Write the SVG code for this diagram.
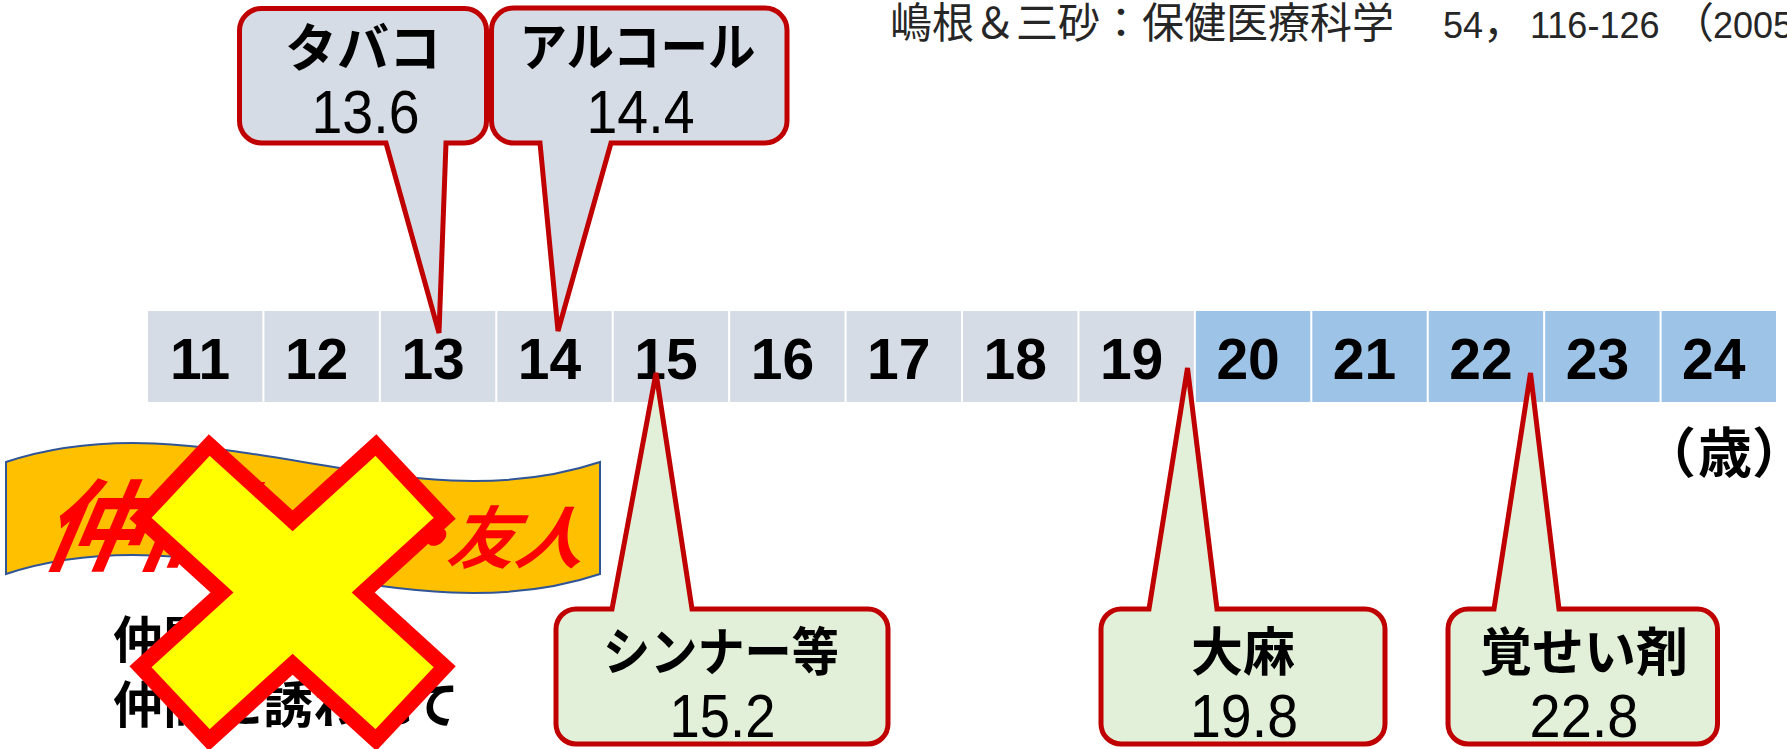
<svg xmlns="http://www.w3.org/2000/svg" width="1787" height="749" viewBox="0 0 1787 749">
<style>
.jp{font-family:"Noto Sans CJK JP","Noto Sans CJK SC",sans-serif;}
.jpb{font-family:"Noto Sans CJK JP","Noto Sans CJK SC",sans-serif;font-weight:bold;}
.num{font-family:"Liberation Sans",Arial,"Noto Sans CJK JP",sans-serif;}
.cellg{fill:#D6DCE5;}
.cellb{fill:#9DC3E6;}
.age{font-family:"Liberation Sans",Arial,sans-serif;font-weight:bold;font-size:57px;fill:#000;text-anchor:middle;}
.coTop{fill:#D6DCE5;stroke:#C00000;stroke-width:5;}
.coBot{fill:#E2F0D9;stroke:#C00000;stroke-width:5;}
.lbl{font-size:52px;fill:#000;text-anchor:middle;}
.val{font-size:62px;fill:#000;text-anchor:middle;}
</style>

<g id="citation">
<text y="37.5" fill="#262626" class="jp" font-size="42"><tspan x="890">嶋根＆三砂：保健医療科学</tspan><tspan x="1443" class="num" font-size="36">54</tspan><tspan>，</tspan><tspan x="1530" class="num" font-size="36">116-126</tspan><tspan x="1672">（</tspan><tspan x="1713" class="num" font-size="36">2005</tspan></text>
</g>

<g id="timeline">
<g id="age-11"><rect class="cellg" x="148" y="311" width="114.4" height="91"/><text class="age" x="200.2" y="379">11</text></g>
<g id="age-12"><rect class="cellg" x="264.43" y="311" width="114.4" height="91"/><text class="age" x="316.6" y="379">12</text></g>
<g id="age-13"><rect class="cellg" x="380.86" y="311" width="114.4" height="91"/><text class="age" x="433.1" y="379">13</text></g>
<g id="age-14"><rect class="cellg" x="497.29" y="311" width="114.4" height="91"/><text class="age" x="549.5" y="379">14</text></g>
<g id="age-15"><rect class="cellg" x="613.72" y="311" width="114.4" height="91"/><text class="age" x="665.9" y="379">15</text></g>
<g id="age-16"><rect class="cellg" x="730.15" y="311" width="114.4" height="91"/><text class="age" x="782.4" y="379">16</text></g>
<g id="age-17"><rect class="cellg" x="846.58" y="311" width="114.4" height="91"/><text class="age" x="898.8" y="379">17</text></g>
<g id="age-18"><rect class="cellg" x="963.01" y="311" width="114.4" height="91"/><text class="age" x="1015.2" y="379">18</text></g>
<g id="age-19"><rect class="cellg" x="1079.44" y="311" width="114.4" height="91"/><text class="age" x="1131.6" y="379">19</text></g>
<g id="age-20"><rect class="cellb" x="1195.87" y="311" width="114.4" height="91"/><text class="age" x="1248.1" y="379">20</text></g>
<g id="age-21"><rect class="cellb" x="1312.3" y="311" width="114.4" height="91"/><text class="age" x="1364.5" y="379">21</text></g>
<g id="age-22"><rect class="cellb" x="1428.73" y="311" width="114.4" height="91"/><text class="age" x="1480.9" y="379">22</text></g>
<g id="age-23"><rect class="cellb" x="1545.16" y="311" width="114.4" height="91"/><text class="age" x="1597.4" y="379">23</text></g>
<g id="age-24"><rect class="cellb" x="1661.59" y="311" width="114.4" height="91"/><text class="age" x="1713.8" y="379">24</text></g>
</g>

<g id="unit">
<text class="jpb" font-size="54" fill="#000" y="473" x="1642 1698 1752">（歳）</text>
</g>

<g id="callout-tobacco">
<path class="coTop" d="M261.5,8.5 H464.5 A22,22 0 0 1 486.5,30.5 V121 A22,22 0 0 1 464.5,143 H446 L439,333 L386,143 H261.5 A22,22 0 0 1 239.5,121 V30.5 A22,22 0 0 1 261.5,8.5 Z"/>
<text class="jpb lbl" x="363" y="67">タバコ</text>
<text class="num val" x="365.5" y="133" textLength="108" lengthAdjust="spacingAndGlyphs">13.6</text>
</g>

<g id="callout-alcohol">
<path class="coTop" d="M513.5,8 H765 A22,22 0 0 1 787,30 V121 A22,22 0 0 1 765,143 H611 L558,331 L540,143 H513.5 A22,22 0 0 1 491.5,121 V30 A22,22 0 0 1 513.5,8 Z"/>
<text class="jpb lbl" x="637.5" y="66" textLength="236" lengthAdjust="spacingAndGlyphs">アルコール</text>
<text class="num val" x="640.5" y="133" textLength="108" lengthAdjust="spacingAndGlyphs">14.4</text>
</g>

<g id="callout-thinner">
<path class="coBot" d="M576,609 H612 L656,373 L692,609 H868 A20,20 0 0 1 888,629 V724 A20,20 0 0 1 868,744 H576 A20,20 0 0 1 556,724 V629 A20,20 0 0 1 576,609 Z"/>
<text class="jpb lbl" x="721" y="671" textLength="236" lengthAdjust="spacingAndGlyphs">シンナー等</text>
<text class="num val" x="722.5" y="737" textLength="106" lengthAdjust="spacingAndGlyphs">15.2</text>
</g>

<g id="callout-cannabis">
<path class="coBot" d="M1121,609 H1149 L1187.5,368 L1217,609 H1365 A20,20 0 0 1 1385,629 V724 A20,20 0 0 1 1365,744 H1121 A20,20 0 0 1 1101,724 V629 A20,20 0 0 1 1121,609 Z"/>
<text class="jpb lbl" x="1243" y="671">大麻</text>
<text class="num val" x="1244" y="736.5" textLength="108" lengthAdjust="spacingAndGlyphs">19.8</text>
</g>

<g id="callout-stimulants">
<path class="coBot" d="M1468,609 H1494 L1530.5,373 L1559,609 H1697.5 A20,20 0 0 1 1717.5,629 V724 A20,20 0 0 1 1697.5,744 H1468 A20,20 0 0 1 1448,724 V629 A20,20 0 0 1 1468,609 Z"/>
<text class="jpb lbl" x="1584" y="671">覚せい剤</text>
<text class="num val" x="1584" y="736.5" textLength="109" lengthAdjust="spacingAndGlyphs">22.8</text>
</g>

<g id="banner">
<path d="M6,462 C204,396 402,528 600,462 L600,574 C402,640 204,508 6,574 Z" fill="#FFC000" stroke="#2F5597" stroke-width="2"/>
<g transform="translate(0,563) skewX(-23)">
<text class="jpb" fill="#FF0000" y="0"><tspan x="38" font-size="100">仲間</tspan><tspan x="392" font-size="68">・</tspan><tspan x="445" font-size="68">友人</tspan></text>
</g>
</g>

<g id="reasons">
<text class="jpb" font-size="50" fill="#000" x="113" y="658">仲間に憧れて</text>
<text class="jpb" font-size="50" fill="#000" x="113" y="723">仲間に誘われて</text>
</g>

<g id="cross">
<path d="M292.6,520.8 L375.9,445 L444.7,518.3 L363.2,592.5 L444.7,666.7 L375.9,740 L292.6,664.2 L209.3,740 L140.5,666.7 L222,592.5 L140.5,518.3 L209.3,445 Z" fill="#FFFF00" stroke="#FF0000" stroke-width="15.5" stroke-miterlimit="10"/>
</g>
</svg>
